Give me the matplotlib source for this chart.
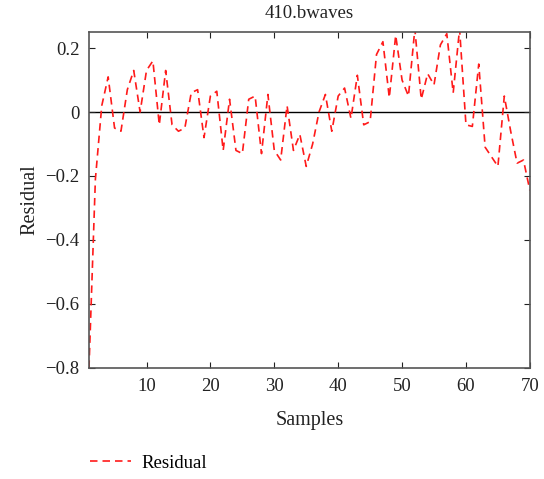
import matplotlib
matplotlib.use("Agg")
import matplotlib.pyplot as plt
from matplotlib.ticker import FixedLocator, FuncFormatter

samples = list(range(1, 71))
residual = [
    -0.80, -0.21, 0.02, 0.11, -0.05, -0.06, 0.07, 0.13, 0.00, 0.13,
    0.16, -0.04, 0.13, -0.04, -0.06, -0.05, 0.06, 0.07, -0.08, 0.05,
    0.065, -0.12, 0.04, -0.12, -0.13, 0.04, 0.05, -0.13, 0.055, -0.12,
    -0.15, 0.02, -0.12, -0.07, -0.17, -0.10, 0.00, 0.055, -0.06, 0.05,
    0.075, -0.02, 0.115, -0.04, -0.03, 0.18, 0.22, 0.045, 0.24, 0.10,
    0.05, 0.26, 0.04, 0.12, 0.085, 0.21, 0.245, 0.06, 0.26, -0.04,
    -0.045, 0.15, -0.11, -0.14, -0.17, 0.05, -0.06, -0.16, -0.15, -0.245,
]
xticks = [10, 20, 30, 40, 50, 60, 70]
yticks = [-0.8, -0.6, -0.4, -0.2, 0, 0.2]

plt.rcParams['font.family'] = ['Liberation Serif', 'DejaVu Serif']
fig = plt.figure(figsize=(5.44, 4.79), dpi=100)
ax = fig.add_axes([0.1636, 0.232, 0.974 - 0.1636, 0.933 - 0.232])

line, = ax.plot(samples, residual, color='#ff1a1a', linestyle=(0, (4.5, 3)),
                linewidth=1.2, label='Residual')
ax.axhline(0, color='black', linewidth=1.0, zorder=1)

ax.set_xlim(1, 70)
ax.set_ylim(-0.8, 0.25)
ax.xaxis.set_major_locator(FixedLocator(xticks))
ax.yaxis.set_major_locator(FixedLocator(yticks))

def yfmt(v, pos):
    if abs(v) < 1e-9:
        return '0'
    s = f'{v:.1f}'
    return s.replace('-', '\u2212')
ax.yaxis.set_major_formatter(FuncFormatter(yfmt))

ax.tick_params(direction='in', top=True, right=True, length=4, width=0.8,
               labelsize=13.5, colors='#222222', pad=7)
for sp in ax.spines.values():
    sp.set_color('#555555')
    sp.set_linewidth(1.2)

ax.set_title('410.bwaves', fontsize=13.5, pad=10, color='#222222')
ax.set_xlabel('Samples', fontsize=14.5, color='#222222', labelpad=12)
ax.set_ylabel('Residual', fontsize=14.5, color='#222222', labelpad=4)

fig.legend(handles=[line], loc='center left', bbox_to_anchor=(0.165, 0.033),
           frameon=False, fontsize=13.5, handlelength=2.2, handletextpad=0.55,
           borderpad=0, borderaxespad=0)

fig.savefig('out.png', dpi=100)
